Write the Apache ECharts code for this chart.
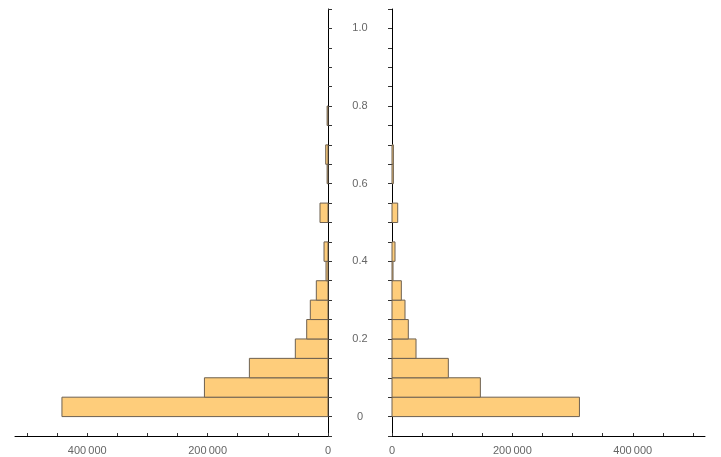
<!DOCTYPE html>
<html>
<head>
<meta charset="utf-8">
<script src="https://cdn.jsdelivr.net/npm/echarts@6/dist/echarts.min.js"></script>
<style>
  html, body { margin: 0; padding: 0; background: #fff; }
  #chart { width: 721px; height: 457px; }
</style>
</head>
<body>
<div id="chart"></div>
<script>
// bin starts (width 0.05) and counts for the two histograms
const binStarts = [0, 0.05, 0.1, 0.15, 0.2, 0.25, 0.3, 0.35, 0.4, 0.45, 0.5, 0.55, 0.6, 0.65, 0.7, 0.75, 0.8, 0.85, 0.9, 0.95]
const leftCounts = [442000, 205300, 130600, 54300, 35400, 29400, 19400, 3300, 6600, 0, 13300, 0, 1500, 3800, 0, 1500, 0, 0, 0, 0]
const rightCounts = [311400, 146800, 93600, 39900, 27100, 21600, 15500, 1700, 5000, 0, 9500, 0, 2300, 2300, 0, 0, 0, 0, 0, 0]
const binWidth = 0.05

const fillColor = '#fecd7b'
const edgeColor = '#6e6151'
const labelColor = '#666'

const chart = echarts.init(document.getElementById('chart'))

function renderBar(params, api) {
  const y0 = api.value(0)
  const v = api.value(1)
  if (!v) return
  const p0 = api.coord([0, y0])
  const p1 = api.coord([v, y0 + binWidth])
  return {
    type: 'rect',
    shape: {
      x: Math.min(p0[0], p1[0]),
      y: p1[1],
      width: Math.abs(p1[0] - p0[0]),
      height: p0[1] - p1[1]
    },
    style: { fill: fillColor, stroke: edgeColor, lineWidth: 1 }
  }
}

function countLabel(v) {
  if (v === 0) return '0'
  if (v % 200000 !== 0) return ''
  return (v / 1000) + '\u2009000'
}

function binLabel(v) {
  const k = v * 5
  if (Math.abs(k - Math.round(k)) > 1e-6 || v < -1e-6) return ''
  if (Math.abs(v) < 1e-6) return '0'
  return v.toFixed(1)
}

const xAxisBase = {
  type: 'value',
  min: 0,
  max: 520000,
  interval: 50000,
  axisLine: { show: true, onZero: false, lineStyle: { color: '#000', width: 1 } },
  axisTick: { show: true, inside: true, length: 3, lineStyle: { color: '#333' } },
  splitLine: { show: false },
  axisLabel: { color: labelColor, fontSize: 11, margin: 9, formatter: countLabel, showMaxLabel: false }
}

const yAxisBase = {
  type: 'value',
  min: -0.05,
  max: 1.05,
  interval: 0.05,
  axisLine: { show: true, onZero: false, lineStyle: { color: '#000', width: 1 } },
  axisTick: { show: true, length: 4, lineStyle: { color: '#333' } },
  splitLine: { show: false }
}

const options = {
  backgroundColor: '#fff',
  animation: false,
  grid: [
    { left: 15, width: 313, top: 9, height: 427 },
    { left: 392, width: 313, top: 9, height: 427 }
  ],
  xAxis: [
    Object.assign({}, xAxisBase, { gridIndex: 0, inverse: true }),
    Object.assign({}, xAxisBase, { gridIndex: 1 })
  ],
  yAxis: [
    Object.assign({}, yAxisBase, {
      gridIndex: 0,
      position: 'right',
      axisLabel: { color: labelColor, fontSize: 11, margin: 32, align: 'center', formatter: binLabel }
    }),
    Object.assign({}, yAxisBase, {
      gridIndex: 1,
      position: 'left',
      axisLabel: { show: false }
    })
  ],
  series: [
    {
      type: 'custom',
      xAxisIndex: 0,
      yAxisIndex: 0,
      renderItem: renderBar,
      encode: { x: 1, y: 0 },
      data: binStarts.map((b, i) => [b, leftCounts[i]])
    },
    {
      type: 'custom',
      xAxisIndex: 1,
      yAxisIndex: 1,
      renderItem: renderBar,
      encode: { x: 1, y: 0 },
      data: binStarts.map((b, i) => [b, rightCounts[i]])
    }
  ]
}
chart.setOption(options)
</script>
</body>
</html>
